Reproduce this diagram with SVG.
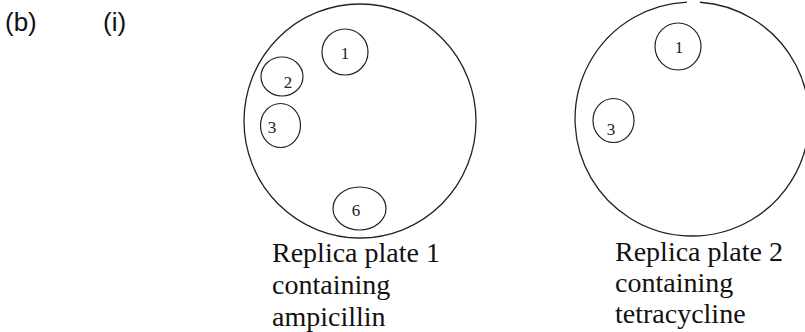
<svg xmlns="http://www.w3.org/2000/svg" width="805" height="332" viewBox="0 0 805 332">
<style>
.plate{fill:none;stroke:#222;stroke-width:1.3}
.col{fill:none;stroke:#222;stroke-width:1.2}
.num{font-family:"Liberation Serif","Times New Roman",serif;font-size:17px;fill:#222;text-anchor:middle}
.cap{font-family:"Liberation Serif","Times New Roman",serif;font-size:28px;fill:#111}
.hd{font-family:"Liberation Sans",Arial,sans-serif;font-size:26px;fill:#111}
</style>
<rect width="805" height="332" fill="#fff"/>
<text class="hd" x="5" y="31">(b)</text>
<text class="hd" x="103" y="31">(i)</text>
<g id="plate1">
<ellipse class="plate" cx="360" cy="121" rx="116" ry="117"/>
<g id="p1c1"><ellipse class="col" cx="345" cy="52" rx="23" ry="23"/><text class="num" x="345" y="59">1</text></g>
<g id="p1c2"><ellipse class="col" cx="282" cy="76.5" rx="21" ry="19.5"/><text class="num" x="288" y="88">2</text></g>
<g id="p1c3"><ellipse class="col" cx="280.5" cy="125.5" rx="20" ry="22"/><text class="num" x="272" y="133">3</text></g>
<g id="p1c6"><ellipse class="col" cx="359.5" cy="208.5" rx="26.5" ry="21.5"/><text class="num" x="356" y="216">6</text></g>
<text class="cap" x="272" y="262">Replica plate 1</text>
<text class="cap" x="272" y="294">containing</text>
<text class="cap" x="272" y="326">ampicillin</text>
</g>
<g id="plate2">
<path class="plate" d="M700,2.27 A117,117 0 1,1 687,2.11"/>
<g id="p2c1"><ellipse class="col" cx="678" cy="46.5" rx="23" ry="23.5"/><text class="num" x="679" y="53">1</text></g>
<g id="p2c3"><ellipse class="col" cx="613.5" cy="120.5" rx="20.5" ry="22"/><text class="num" x="611" y="135">3</text></g>
<text class="cap" x="615" y="261">Replica plate 2</text>
<text class="cap" x="615" y="292">containing</text>
<text class="cap" x="615" y="323">tetracycline</text>
</g>
<g id="connectors"/>
</svg>
